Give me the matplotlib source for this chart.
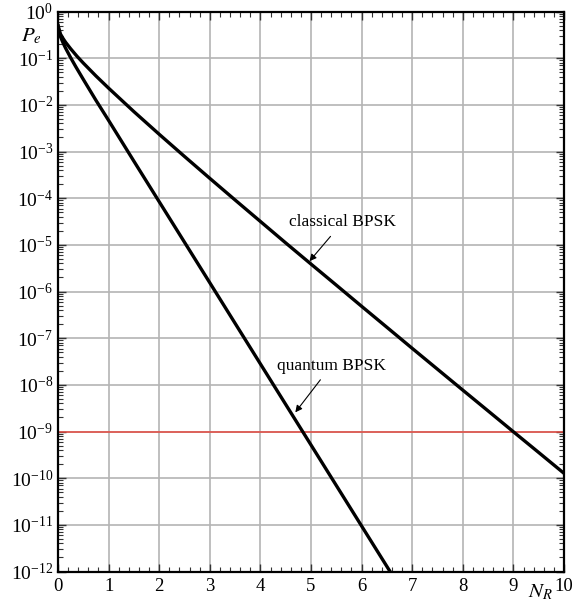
import matplotlib
matplotlib.use("Agg")
import matplotlib.pyplot as plt
from matplotlib.ticker import LogLocator, MultipleLocator, NullFormatter, LogFormatterSciNotation
import numpy as np

# Values
classical_x = [0, 0.05, 0.1, 0.15, 0.25, 0.375, 0.5, 0.75, 1, 1.5, 2, 2.5, 3, 3.5, 4, 4.5, 5,
               5.5, 6, 6.5, 7, 7.5, 8, 8.5, 9, 9.5, 10]
classical_pe = [0.5, 0.327, 0.264, 0.219, 0.159, 0.110, 0.0786, 0.0416, 0.0228, 7.15e-3, 2.34e-3,
                7.83e-4, 2.66e-4, 9.14e-5, 3.17e-5, 1.10e-5, 3.87e-6, 1.37e-6, 4.82e-7, 1.71e-7,
                6.05e-8, 2.16e-8, 7.7e-9, 2.76e-9, 9.87e-10, 3.55e-10, 1.27e-10]
quantum_x = [0, 0.02, 0.05, 0.1, 0.15, 0.25, 0.35, 0.5, 0.75, 1, 1.5, 2, 3, 4, 5, 6, 6.6]
quantum_pe = [0.5, 0.361, 0.287, 0.213, 0.164, 0.1025, 0.066, 0.0351, 0.0125, 4.64e-3, 6.2e-4,
              8.39e-5, 1.54e-6, 2.81e-8, 5.15e-10, 9.44e-12, 8.6e-13]
threshold = 1e-9
labels = ["classical BPSK", "quantum BPSK"]
label_text_xy = [(5.62, 10**-4.52), (5.40, 10**-7.59)]
label_arrow_xy = [(4.97, 10**-5.35), (4.69, 10**-8.59)]

plt.rcParams['font.family'] = ['Liberation Serif', 'DejaVu Serif']
plt.rcParams['mathtext.fontset'] = 'stix'

W, H = 577, 605
L, R, T, B = 58, 564, 11.5, 571.5
fig = plt.figure(figsize=(W/100, H/100), dpi=100)
ax = fig.add_axes([L/W, 1-B/H, (R-L)/W, (B-T)/H])

ax.set_xlim(0, 10)
ax.set_yscale('log')
ax.set_ylim(1e-12, 1)

ax.grid(True, which='major', color='#b4b4b4', lw=1.2)
ax.set_axisbelow(True)

ax.axhline(threshold, color='#e5483f', lw=1.1, zorder=2)
ax.plot(classical_x, classical_pe, color='black', lw=2.4, zorder=3)
ax.plot(quantum_x, quantum_pe, color='black', lw=2.4, zorder=3)

for lab, txy, axy in zip(labels, label_text_xy, label_arrow_xy):
    ax.annotate(lab, xy=axy, xytext=txy, fontsize=12.5, ha='center', va='center',
                arrowprops=dict(arrowstyle='-|>', color='black', lw=0.8,
                                mutation_scale=10, shrinkA=3, shrinkB=0))

ax.xaxis.set_major_locator(MultipleLocator(1))
ax.xaxis.set_minor_locator(MultipleLocator(0.2))
ax.yaxis.set_major_locator(LogLocator(base=10, numticks=20))
ax.yaxis.set_minor_locator(LogLocator(base=10, subs=np.arange(2, 10), numticks=20))
ax.yaxis.set_minor_formatter(NullFormatter())
ax.yaxis.set_major_formatter(LogFormatterSciNotation())

ax.tick_params(which='both', direction='in', top=True, right=True, colors='#333333',
               labelcolor='black')
ax.tick_params(axis='y', labelsize=14)
ax.tick_params(axis='x', labelsize=13.5, pad=5)
ax.tick_params(which='major', length=6, width=1.0)
ax.tick_params(which='minor', length=3.5, width=0.8)

for s in ax.spines.values():
    s.set_linewidth(1.6)

fig.text(31/W, 1-36/H, r'$P_e$', fontsize=15, ha='center', va='center')
fig.text(540/W, 1-592/H, r'$N_R$', fontsize=15, ha='center', va='center')

fig.savefig('out.png', dpi=100)
